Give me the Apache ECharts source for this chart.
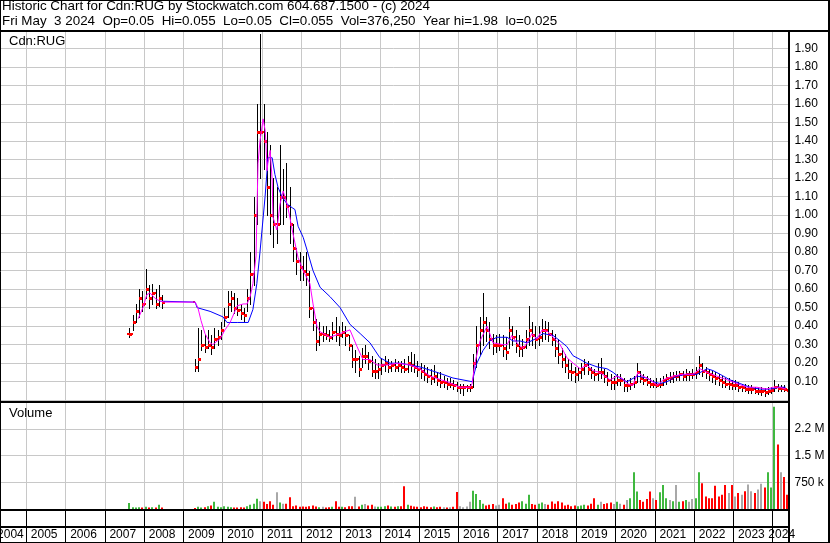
<!DOCTYPE html>
<html><head><meta charset="utf-8">
<script src="https://cdn.jsdelivr.net/npm/echarts@6/dist/echarts.min.js"></script>
<style>html,body{margin:0;padding:0;background:#fff;}#c{width:830px;height:543px;}</style>
</head><body><div id="c"></div>
<script>
// ---------- text ----------
const titleLine1 = 'Historic Chart for Cdn:RUG by Stockwatch.com 604.687.1500 - (c) 2024';
const titleLine2 = 'Fri May  3 2024  Op=0.05  Hi=0.055  Lo=0.05  Cl=0.055  Vol=376,250  Year hi=1.98  lo=0.025';
const symbolLabel = 'Cdn:RUG';
const volumeLabel = 'Volume';
const years = [2004,2005,2006,2007,2008,2009,2010,2011,2012,2013,2014,2015,2016,2017,2018,2019,2020,2021,2022,2023,2024];
const volumeTickValues = [750000, 1500000, 2250000];
const volumeTickLabels = ['750 k', '1.5 M', '2.2 M'];

// ---------- monthly price data (trading spans) ----------
const tradingSpans = [['2007-08','2008-06'],['2009-04','2024-05']];
const high = [
 0.39,0.46,0.52,0.60,0.59,
 0.71,0.62,0.63,0.60,0.62,0.57,
 0.22,0.39,0.38,0.36,0.38,0.35,0.39,0.38,0.42,
 0.50,0.59,0.59,0.58,0.55,0.52,0.50,0.60,0.80,1.10,1.60,1.98,
 1.60,1.45,1.38,1.20,1.15,1.38,1.25,1.28,1.15,0.95,0.82,0.80,
 0.78,0.80,0.70,0.50,0.44,0.42,0.40,0.40,0.38,0.42,0.45,0.40,
 0.42,0.40,0.35,0.30,0.27,0.24,0.28,0.30,0.26,0.24,0.22,0.20,
 0.23,0.24,0.22,0.21,0.22,0.21,0.21,0.22,0.24,0.26,0.25,0.21,
 0.20,0.19,0.18,0.17,0.19,0.15,0.15,0.13,0.12,0.12,0.11,0.10,
 0.09,0.09,0.08,0.09,0.25,0.40,0.45,0.58,0.45,0.42,0.36,0.35,
 0.36,0.35,0.34,0.45,0.40,0.38,0.35,0.33,0.38,0.51,0.42,0.40,
 0.40,0.44,0.43,0.42,0.38,0.36,0.33,0.28,0.25,0.22,0.20,0.18,
 0.18,0.20,0.22,0.21,0.18,0.17,0.20,0.23,0.17,0.15,0.14,0.13,
 0.14,0.14,0.12,0.11,0.12,0.13,0.20,0.16,0.14,0.13,0.12,0.11,
 0.12,0.12,0.13,0.14,0.15,0.15,0.16,0.16,0.16,0.17,0.16,0.17,
 0.18,0.24,0.20,0.18,0.17,0.16,0.15,0.14,0.13,0.12,0.12,0.11,
 0.11,0.10,0.09,0.09,0.08,0.08,0.07,0.07,0.07,0.065,0.07,0.07,
 0.11,0.09,0.08,0.08,0.055
];
const low = [
 0.34,0.38,0.42,0.45,0.48,
 0.55,0.50,0.52,0.50,0.51,0.50,
 0.16,0.16,0.27,0.26,0.28,0.25,0.28,0.30,0.33,
 0.40,0.45,0.48,0.47,0.46,0.44,0.43,0.48,0.52,0.62,0.95,1.20,
 1.25,1.00,0.90,0.83,0.85,0.95,0.95,0.99,0.85,0.75,0.68,0.65,
 0.65,0.62,0.45,0.38,0.27,0.30,0.32,0.33,0.32,0.33,0.32,0.30,
 0.34,0.30,0.27,0.18,0.15,0.13,0.18,0.20,0.17,0.13,0.12,0.12,
 0.14,0.16,0.15,0.16,0.16,0.16,0.15,0.15,0.15,0.16,0.15,0.13,
 0.12,0.11,0.10,0.09,0.10,0.08,0.07,0.07,0.06,0.07,0.06,0.05,
 0.04,0.03,0.05,0.05,0.07,0.18,0.25,0.30,0.32,0.28,0.25,0.26,
 0.27,0.24,0.22,0.28,0.30,0.26,0.24,0.24,0.28,0.30,0.30,0.28,
 0.30,0.32,0.33,0.32,0.30,0.24,0.20,0.18,0.15,0.12,0.11,0.10,
 0.11,0.12,0.14,0.14,0.12,0.11,0.11,0.12,0.10,0.08,0.06,0.06,
 0.08,0.08,0.05,0.05,0.06,0.07,0.10,0.10,0.09,0.08,0.07,0.07,
 0.07,0.07,0.08,0.09,0.10,0.10,0.11,0.11,0.11,0.11,0.11,0.12,
 0.12,0.14,0.13,0.12,0.11,0.10,0.09,0.08,0.07,0.07,0.06,0.06,
 0.06,0.05,0.05,0.05,0.04,0.04,0.04,0.035,0.03,0.025,0.035,0.04,
 0.05,0.05,0.05,0.05,0.05
];
const close = [
 0.36,0.42,0.48,0.55,0.52,
 0.60,0.55,0.58,0.52,0.55,0.53,
 0.18,0.22,0.30,0.29,0.30,0.29,0.33,0.34,0.38,
 0.45,0.52,0.55,0.50,0.49,0.47,0.46,0.55,0.68,1.00,1.45,1.45,
 1.40,1.15,1.00,0.95,0.95,1.10,1.10,1.05,0.95,0.82,0.75,0.72,
 0.70,0.68,0.50,0.42,0.32,0.36,0.36,0.35,0.34,0.37,0.36,0.35,
 0.37,0.35,0.30,0.22,0.22,0.17,0.24,0.24,0.21,0.16,0.16,0.17,
 0.19,0.20,0.18,0.19,0.18,0.19,0.18,0.17,0.20,0.19,0.18,0.17,
 0.16,0.14,0.13,0.12,0.13,0.11,0.10,0.10,0.09,0.09,0.08,0.07,
 0.07,0.07,0.07,0.07,0.20,0.30,0.38,0.42,0.38,0.33,0.30,0.30,
 0.30,0.28,0.26,0.38,0.34,0.30,0.28,0.29,0.33,0.38,0.35,0.33,
 0.34,0.38,0.38,0.36,0.33,0.28,0.25,0.22,0.19,0.16,0.15,0.14,
 0.15,0.17,0.19,0.17,0.15,0.14,0.15,0.15,0.13,0.11,0.10,0.10,
 0.11,0.11,0.08,0.08,0.09,0.10,0.15,0.12,0.11,0.10,0.09,0.09,
 0.08,0.09,0.11,0.12,0.12,0.13,0.13,0.14,0.13,0.14,0.14,0.14,
 0.15,0.19,0.16,0.15,0.14,0.13,0.12,0.11,0.10,0.09,0.09,0.08,
 0.08,0.07,0.07,0.06,0.06,0.06,0.05,0.05,0.05,0.045,0.05,0.055,
 0.07,0.065,0.065,0.06,0.055
];
const volume = [
 170000,50000,40000,50000,40000,
 60000,40000,50000,40000,120000,40000,
 30000,60000,40000,50000,80000,100000,200000,60000,50000,
 80000,60000,50000,40000,40000,50000,40000,80000,120000,150000,290000,220000,
 200000,140000,220000,120000,470000,180000,150000,150000,330000,80000,100000,60000,
 70000,60000,80000,100000,70000,50000,60000,40000,50000,60000,220000,60000,
 60000,50000,80000,80000,340000,70000,120000,140000,100000,120000,70000,60000,
 60000,80000,100000,70000,60000,80000,80000,640000,120000,90000,70000,60000,
 50000,80000,60000,50000,70000,50000,60000,50000,40000,50000,60000,480000,
 80000,50000,70000,200000,510000,420000,250000,150000,100000,120000,140000,100000,
 120000,300000,150000,180000,120000,140000,180000,220000,150000,400000,140000,120000,
 150000,180000,140000,120000,210000,150000,220000,180000,100000,120000,80000,100000,
 80000,100000,120000,100000,150000,300000,120000,200000,140000,160000,180000,140000,
 200000,150000,120000,250000,300000,1030000,490000,250000,200000,280000,490000,300000,
 250000,470000,670000,300000,250000,220000,670000,200000,220000,250000,200000,280000,
 300000,1030000,720000,350000,300000,300000,650000,350000,400000,670000,450000,670000,
 350000,450000,400000,500000,690000,500000,450000,550000,710000,600000,1030000,600000,
 2870000,1810000,1030000,900000,400000
];

// ---------- moving averages (decimal year, price) ----------
const maShortX = [2007.85,2007.97,2008.07,2008.15,2008.28,2008.41,2008.53,2009.30,2009.37,2009.45,2009.55,2009.68,2009.75,2009.86,2009.93,2010.06,2010.19,2010.37,2010.52,2010.62,2010.70,2010.77,2010.85,2010.90,2010.95,2011.03,2011.08,2011.10,2011.13,2011.15,2011.21,2011.26,2011.28,2011.38,2011.46,2011.54,2011.64,2011.71,2011.77,2011.84,2011.92,2012.05,2012.22,2012.30,2012.40,2012.48,2012.73,2012.99,2013.24,2013.42,2013.57,2013.75,2013.93,2014.18,2014.44,2014.77,2015.02,2015.28,2015.71,2016.04,2016.30,2016.35,2016.42,2016.55,2016.73,2016.80,2016.88,2017.14,2017.24,2017.36,2017.49,2017.64,2017.75,2017.87,2018.00,2018.13,2018.28,2018.41,2018.59,2018.76,2018.92,2019.10,2019.27,2019.43,2019.60,2019.73,2019.86,2020.04,2020.16,2020.29,2020.44,2020.57,2020.70,2020.88,2021.06,2021.21,2021.46,2021.72,2021.97,2022.15,2022.33,2022.58,2022.84,2023.09,2023.35,2023.60,2023.85,2024.01,2024.19,2024.33];
const maShortY = [0.44,0.50,0.57,0.58,0.55,0.535,0.53,0.53,0.50,0.43,0.36,0.31,0.30,0.32,0.33,0.38,0.42,0.51,0.52,0.52,0.56,0.63,0.78,1.28,1.40,1.52,1.46,1.40,1.24,1.28,1.35,1.19,0.99,0.92,1.06,1.13,1.06,0.99,0.92,0.85,0.77,0.70,0.63,0.52,0.40,0.37,0.34,0.36,0.38,0.29,0.22,0.22,0.19,0.19,0.20,0.19,0.17,0.13,0.10,0.07,0.07,0.09,0.20,0.32,0.40,0.36,0.31,0.30,0.30,0.35,0.31,0.28,0.31,0.36,0.33,0.38,0.37,0.34,0.30,0.23,0.20,0.17,0.19,0.16,0.15,0.13,0.11,0.13,0.12,0.09,0.08,0.15,0.13,0.11,0.08,0.11,0.13,0.14,0.14,0.17,0.15,0.13,0.11,0.09,0.07,0.07,0.06,0.07,0.07,0.06];
const maLongX = [2008.41,2009.30,2009.35,2009.68,2010.01,2010.11,2010.37,2010.65,2010.77,2010.87,2010.95,2011.08,2011.13,2011.15,2011.26,2011.33,2011.41,2011.51,2011.64,2011.77,2011.84,2011.92,2012.05,2012.15,2012.30,2012.48,2012.73,2012.99,2013.24,2013.50,2013.75,2014.00,2014.26,2014.51,2014.77,2015.02,2015.46,2015.86,2016.35,2016.47,2016.63,2016.80,2016.98,2017.24,2017.39,2017.57,2017.75,2017.95,2018.15,2018.41,2018.59,2018.76,2018.92,2019.10,2019.27,2019.53,2019.78,2019.94,2020.11,2020.29,2020.55,2020.80,2020.95,2021.13,2021.31,2021.56,2021.82,2022.07,2022.33,2022.48,2022.66,2022.91,2023.17,2023.42,2023.68,2023.93,2024.19,2024.33];
const maLongY = [0.535,0.53,0.50,0.48,0.45,0.42,0.42,0.42,0.49,0.63,0.80,1.10,1.24,1.31,1.31,1.22,1.15,1.10,1.06,1.04,1.03,0.94,0.88,0.81,0.70,0.61,0.56,0.50,0.41,0.36,0.31,0.23,0.20,0.20,0.19,0.18,0.15,0.12,0.10,0.20,0.27,0.32,0.34,0.34,0.32,0.32,0.31,0.33,0.36,0.35,0.32,0.29,0.24,0.22,0.20,0.18,0.17,0.15,0.12,0.10,0.13,0.12,0.10,0.09,0.10,0.13,0.14,0.14,0.17,0.16,0.14,0.11,0.09,0.07,0.06,0.06,0.07,0.07];

// ---------- helpers ----------
function expandMonths(a, b) {
  let [y, m] = a.split('-').map(Number); const [y2, m2] = b.split('-').map(Number);
  const out = [];
  while (y < y2 || (y === y2 && m <= m2)) { out.push([y, m]); m++; if (m > 12) { m = 1; y++; } }
  return out;
}
const months = tradingSpans.flatMap(s => expandMonths(s[0], s[1]));
const monthX = months.map(([y, m]) => y + (m - 0.5) / 12);

const FONT = "'Liberation Sans', Arial, sans-serif";
const X_MIN = 2004, X_MAX = 2024.4017;
const GRID_L = -13.09, GRID_R = 830 - 788.5;

const ohlcData = monthX.map((x, i) => [x, high[i], low[i], close[i], i === 0 ? close[i] : close[i - 1]]);
const volData = monthX.map((x, i) => {
  const dir = i === 0 ? 1 : Math.sign(close[i] - close[i - 1]);
  return [x, volume[i], dir];
});
const zip = (xs, ys) => xs.map((x, i) => [x, ys[i]]);

const chart = echarts.init(document.getElementById('c'), null, {renderer: 'canvas'});

const txt = (extra) => Object.assign({fontFamily: FONT, fontWeight: 'normal', color: '#000'}, extra);

function xAxisFor(i) {
  const ax = {
    type: 'value', gridIndex: i, min: X_MIN, max: X_MAX, interval: 1,
    axisLine: {show: false}, axisTick: {show: false},
    splitLine: {show: true, lineStyle: {color: i === 2 ? '#000' : '#c8c8c8', width: 1}},
    axisLabel: {show: false}
  };
  if (i === 2) {
    ax.axisLabel = {
      show: true, inside: true, margin: 8, verticalAlign: 'middle', interval: 0,
      showMinLabel: true, showMaxLabel: false,
      formatter: v => {
        const y = Math.round(v);
        if (Math.abs(v - y) > 1e-6 || years.indexOf(y) < 0) return '';
        if (y === years[0]) return '{f|' + y + '}';
        if (y === years[years.length - 1]) return '{l|' + y + '}';
        return '{m|' + y + '}';
      },
      rich: {
        f: txt({fontSize: 12, padding: [0, 0, 0, 47]}),
        m: txt({fontSize: 12, padding: [0, 0, 0, 36]}),
        l: txt({fontSize: 12, padding: [0, 0, 0, 18]})
      }
    };
  }
  return ax;
}

const hline = (y, x1, x2, w) => ({type: 'line', silent: true, z: 100,
  shape: {x1: x1, y1: y, x2: x2, y2: y}, style: {stroke: '#000', lineWidth: w}});
const vline = (x, y1, y2, w) => ({type: 'line', silent: true, z: 100,
  shape: {x1: x, y1: y1, x2: x, y2: y2}, style: {stroke: '#000', lineWidth: w}});

const gridBase = {left: GRID_L, right: GRID_R, containLabel: false, outerBoundsMode: 'none'};

const option = {
  animation: false,
  backgroundColor: '#fff',
  title: [
    {text: titleLine1, left: 2, top: 0, padding: 0, textStyle: txt({fontSize: 13.4})},
    {text: titleLine2, left: 2, top: 15, padding: 0, textStyle: txt({fontSize: 13.4})},
    {text: symbolLabel, left: 9, top: 35, padding: 0, textStyle: txt({fontSize: 13})},
    {text: volumeLabel, left: 9, top: 407, padding: 0, textStyle: txt({fontSize: 13})}
  ],
  grid: [
    Object.assign({top: 31, height: 369.2}, gridBase),
    Object.assign({top: 402, height: 107}, gridBase),
    Object.assign({top: 510, height: 33}, gridBase)
  ],
  xAxis: [xAxisFor(0), xAxisFor(1), xAxisFor(2)],
  yAxis: [
    {type: 'value', gridIndex: 0, position: 'right', min: 0, max: 1.995, interval: 0.1,
     axisLine: {show: false}, axisTick: {show: false},
     splitLine: {show: true, lineStyle: {color: '#c8c8c8', width: 1}},
     axisLabel: {margin: 6, formatter: v => (v > 0.05 && v < 1.95) ? v.toFixed(2) : '',
       fontFamily: FONT, fontSize: 12, color: '#000'}},
    {type: 'value', gridIndex: 1, position: 'right', min: 0, max: 3000000, interval: 750000,
     axisLine: {show: false}, axisTick: {show: false},
     splitLine: {show: true, lineStyle: {color: '#c8c8c8', width: 1}},
     axisLabel: {margin: 6, formatter: v => {
       const k = volumeTickValues.indexOf(Math.round(v)); return k < 0 ? '' : volumeTickLabels[k]; },
       fontFamily: FONT, fontSize: 12, color: '#000'}},
    {type: 'value', gridIndex: 2, min: 0, max: 1, show: false}
  ],
  series: [
    {
      type: 'custom', name: 'price', xAxisIndex: 0, yAxisIndex: 0, clip: true, z: 2,
      encode: {x: 0, y: [1, 2, 3]},
      data: ohlcData,
      renderItem: (params, api) => {
        const x = api.value(0);
        const pH = api.coord([x, api.value(1)]);
        const pL = api.coord([x, api.value(2)]);
        const pC = api.coord([x, api.value(3)]);
        const pO = api.coord([x, api.value(4)]);
        const px = Math.round(pH[0]) + 0.5;
        return {type: 'group', children: [
          {type: 'line', shape: {x1: px, y1: Math.round(pH[1]), x2: px, y2: Math.round(pL[1]) + 1},
           style: {stroke: '#000', lineWidth: 1}},
          {type: 'rect', shape: {x: Math.round(pO[0]) - 2, y: Math.round(pO[1]) - 1, width: 2, height: 2},
           style: {fill: '#ff0000'}},
          {type: 'rect', shape: {x: Math.round(pC[0]), y: Math.round(pC[1]) - 1, width: 3, height: 3},
           style: {fill: '#ff0000'}}
        ]};
      }
    },
    {type: 'line', name: 'MA long', xAxisIndex: 0, yAxisIndex: 0, data: zip(maLongX, maLongY),
     symbol: 'none', lineStyle: {color: '#0000ff', width: 1}, itemStyle: {color: '#0000ff'}, z: 3},
    {type: 'line', name: 'MA short', xAxisIndex: 0, yAxisIndex: 0, data: zip(maShortX, maShortY),
     symbol: 'none', lineStyle: {color: '#ff00ff', width: 1}, itemStyle: {color: '#ff00ff'}, z: 4},
    {
      type: 'custom', name: 'volume', xAxisIndex: 1, yAxisIndex: 1, clip: true, z: 2,
      encode: {x: 0, y: 1},
      data: volData,
      renderItem: (params, api) => {
        const x = api.value(0);
        const pT = api.coord([x, api.value(1)]);
        const pB = api.coord([x, 0]);
        const d = api.value(2);
        const col = d > 0 ? '#3fb83f' : (d < 0 ? '#ff0000' : '#a8a8a8');
        return {type: 'rect', shape: {x: Math.round(pT[0]) - 1, y: pT[1], width: 2, height: pB[1] - pT[1]},
          style: {fill: col}};
      }
    }
  ],
  graphic: [
    hline(0.5, 0, 830, 1),
    hline(31, 0, 830, 2),
    hline(402, 0, 790, 2),
    hline(510, 0, 790, 2),
    hline(527, 0, 790, 2),
    hline(542.5, 0, 830, 1),
    vline(789, 30, 543, 2),
    vline(829, 0, 543, 2),
    vline(0.5, 0, 543, 1)
  ]
};
chart.setOption(option);
</script>
</body></html>
